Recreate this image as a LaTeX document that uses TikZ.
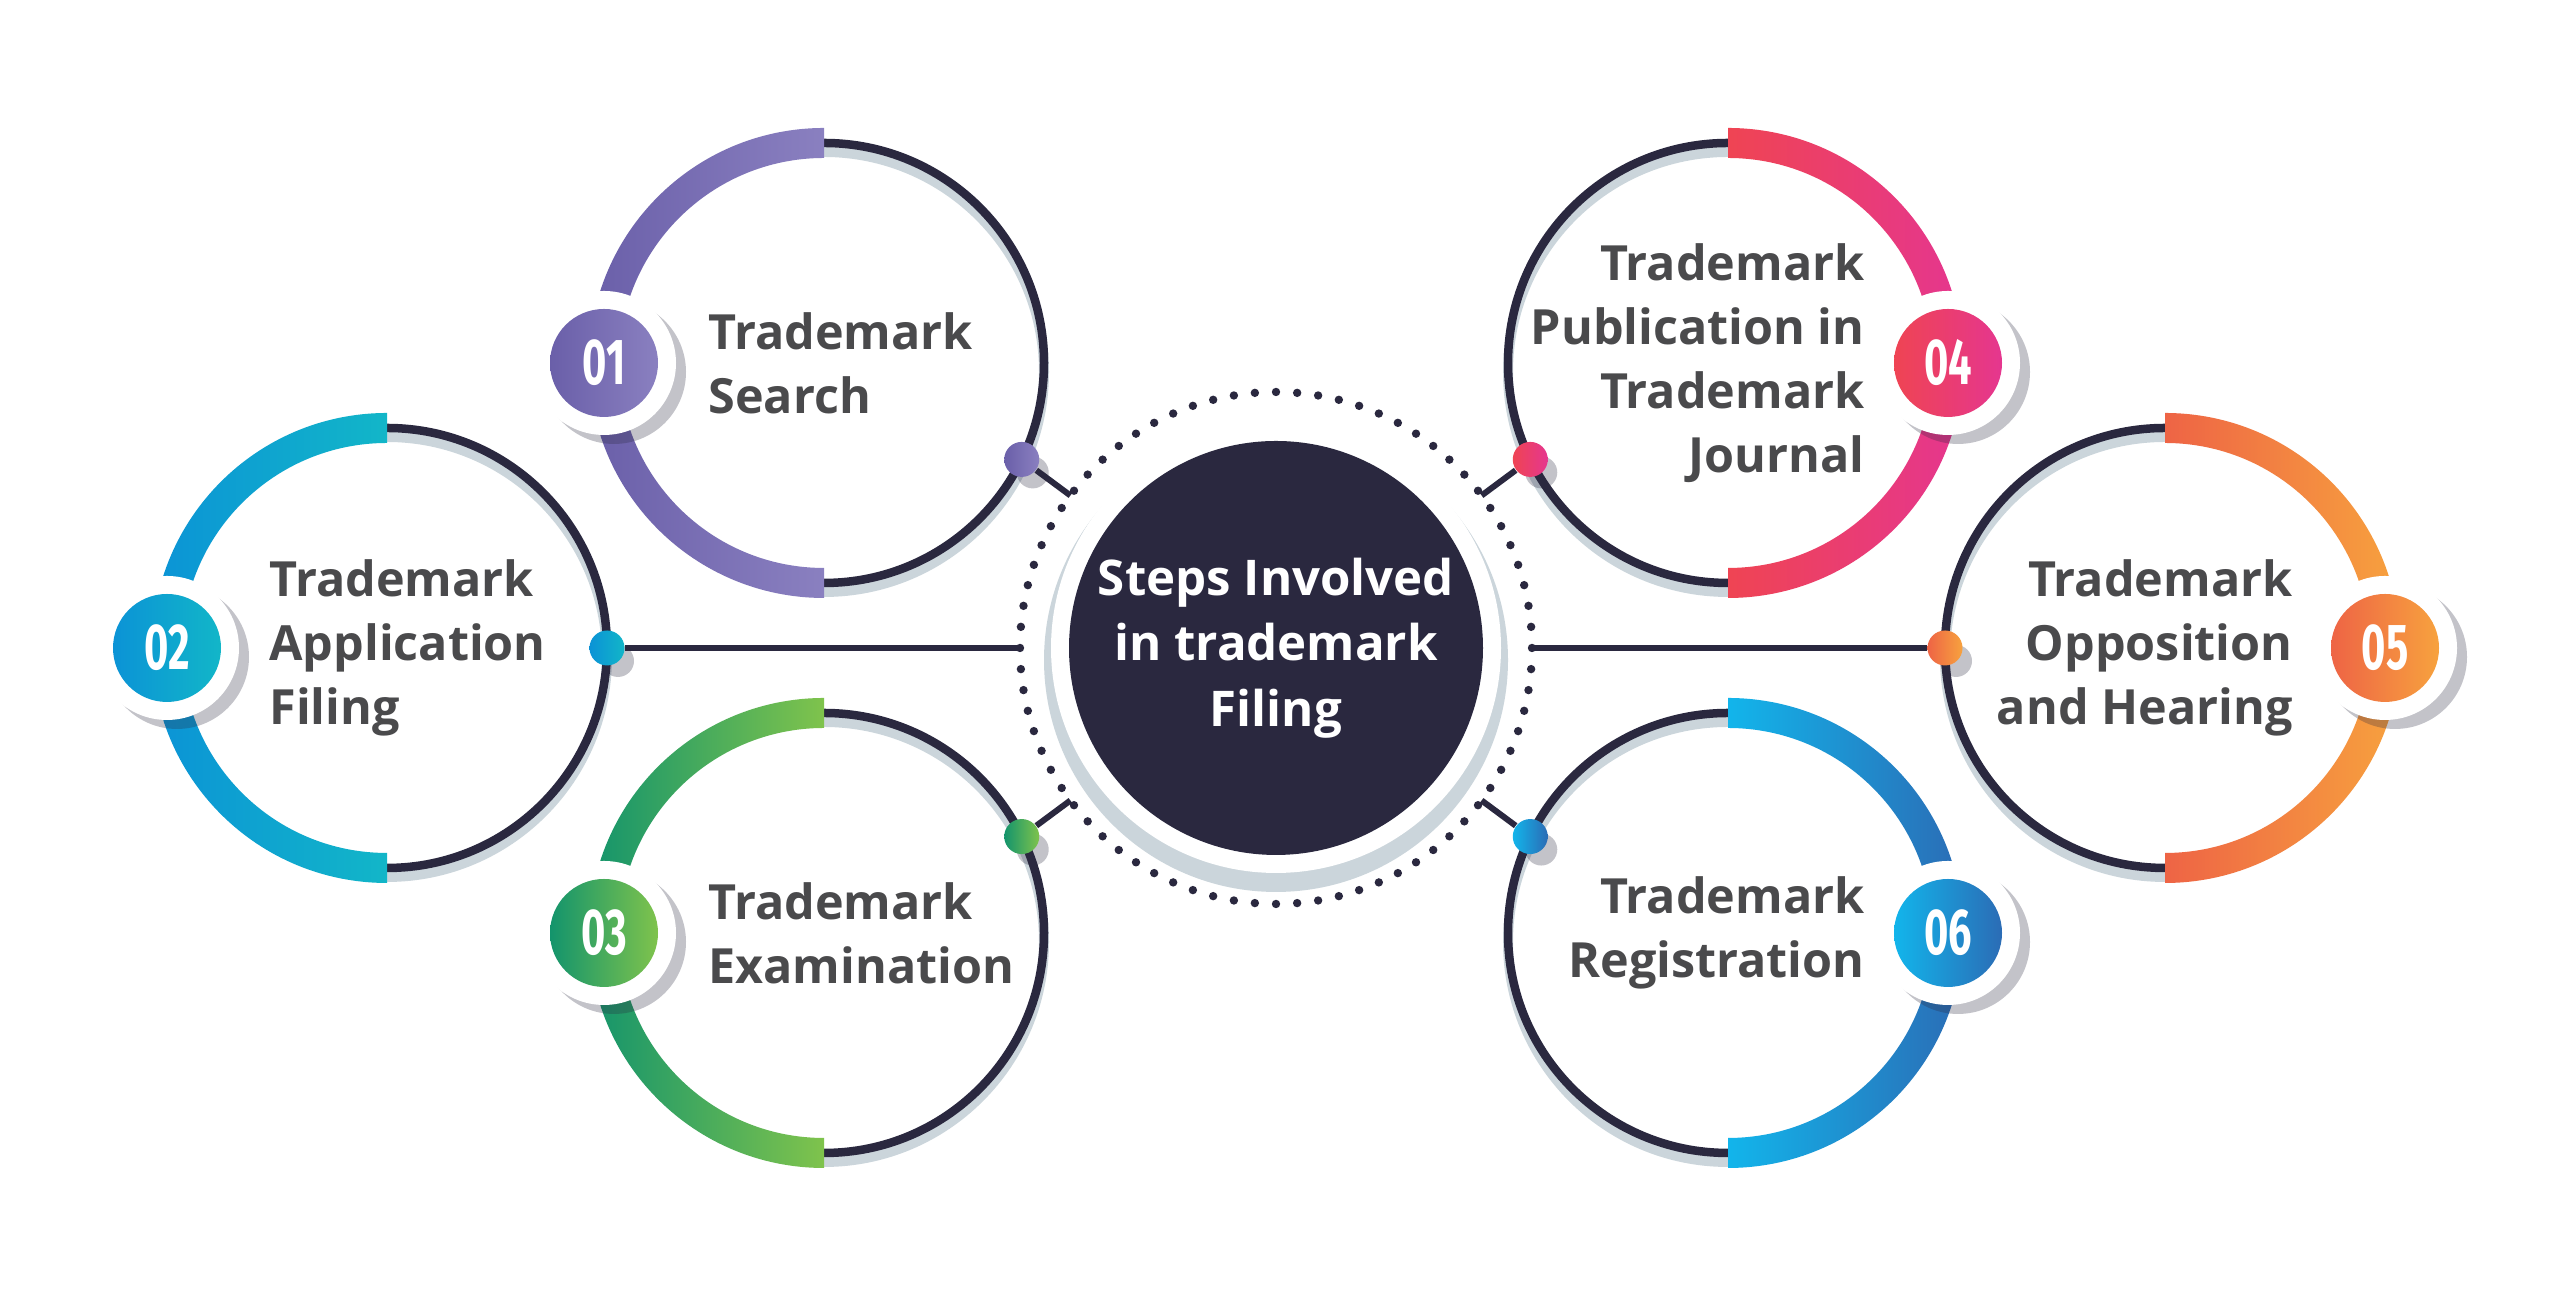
\documentclass[tikz,border=0pt]{standalone}
\usepackage{fontspec}
\setmainfont{Open Sans}
\newfontfamily\numfont{Fira Sans}[FakeStretch=0.64]
\usepackage{xcolor}
\usetikzlibrary{calc,positioning}
\definecolor{ink}{HTML}{2A283F}
\definecolor{halo}{HTML}{CBD5DB}
\definecolor{txt}{HTML}{4A4A4C}
\definecolor{purA}{HTML}{6A5FA9}
\definecolor{purB}{HTML}{8A80C0}
\definecolor{tealA}{HTML}{0B93D6}
\definecolor{tealB}{HTML}{12B6C8}
\definecolor{grnA}{HTML}{13946C}
\definecolor{grnB}{HTML}{7FC34C}
\definecolor{pnkA}{HTML}{EF4453}
\definecolor{pnkB}{HTML}{E5368F}
\definecolor{orgA}{HTML}{EE6445}
\definecolor{orgB}{HTML}{F7A23E}
\definecolor{bluA}{HTML}{12B5EB}
\definecolor{bluB}{HTML}{2B6CB5}
\tikzset{
  ring/.style={draw=ink, line width=0.85mm},
  ringshadow/.style={draw=halo, line width=1mm},
  conn/.style={draw=ink, line width=0.6mm},
  hub/.style={circle, fill=ink, minimum size=41.4mm, inner sep=0pt, text=white, align=center,
    font=\bfseries\fontsize{14}{18.6}\selectfont},
  badge/.style={circle, minimum size=10.8mm, inner sep=0pt, text=white,
    font=\numfont\bfseries\fontsize{18.5}{18.5}\selectfont},
  dot/.style={circle, minimum size=3.5mm, inner sep=0pt},
  drop/.style={fill=ink, fill opacity=0.28},
  grad/.style 2 args={left color=#1, right color=#2},
  lbl/.style={text=txt, inner sep=0pt, font=\bfseries\fontsize{13.8}{18.2}\selectfont}
}

\begin{document}
\begin{tikzpicture}[x=0.1mm, y=0.1mm]
  \fill[white] (0,0) rectangle (2560,1296);

  % centre
  \coordinate (mid) at (1276,648);
  \fill[halo] ($(mid)+(0,-12)$) circle (232);
  \fill[white] (mid) circle (225);
  \node[hub] (hub) at (mid) {Steps Involved\\in trademark\\Filing};
  \foreach \i in {0,...,75}
    \fill[ink] ($(mid)+({360/76*\i}:256)$) circle (4.2);

  % the six steps
  \foreach \n/\x/\y/\a/\t/\ca/\cb in {1/824/933/180/-26/purA/purB,
      2/387/648/180/0/tealA/tealB, 3/824/363/180/26/grnA/grnB,
      4/1728/933/0/206/pnkA/pnkB, 5/2165/648/0/180/orgA/orgB,
      6/1728/363/0/154/bluA/bluB}{
    \coordinate (c\n) at (\x,\y);
    \draw[ringshadow] ($(c\n)+(0,-9)$) circle (220);
    \draw[ring] (c\n) circle (220);
    \shade[grad={\ca}{\cb}] ($(c\n)+({\a-90}:235)$)
      arc[start angle=\a-90, end angle=\a+90, radius=235]
      -- ($(c\n)+({\a+90}:205)$)
      arc[start angle=\a+90, end angle=\a-90, radius=205] -- cycle;
    \coordinate (k\n) at ($(c\n)+(\a:220)$);
    \fill[drop] ($(k\n)+(10,-9)$) circle (72);
    \fill[white] (k\n) circle (72);
    \node[badge, grad={\ca}{\cb}] (b\n) at (k\n) {0\n};
    \coordinate (p\n) at ($(c\n)+(\t:220)$);
    \coordinate (e\n) at ($(mid)!2.56cm!(p\n)$);
    \fill[drop] ($(p\n)+(11,-13)$) circle (16);
    \node[dot, grad={\ca}{\cb}] (d\n) at (p\n) {};
    \draw[conn] (d\n) -- (e\n);
  }

  \node[lbl, right=4.9mm of b1, align=left] (t1) {Trademark\\Search};
  \node[lbl, right=4.7mm of b2, align=left] (t2) {Trademark\\Application\\Filing};
  \node[lbl, right=4.9mm of b3, align=left] (t3) {Trademark\\Examination};
  \node[lbl, left=2.8mm of b4, align=right] (t4) {Trademark\\Publication in\\Trademark\\Journal};
  \node[lbl, left=3.7mm of b5, align=right] (t5) {Trademark\\Opposition\\and Hearing};
  \node[lbl, left=2.8mm of b6, align=right] (t6) {Trademark\\Registration};
\end{tikzpicture}
\end{document}
